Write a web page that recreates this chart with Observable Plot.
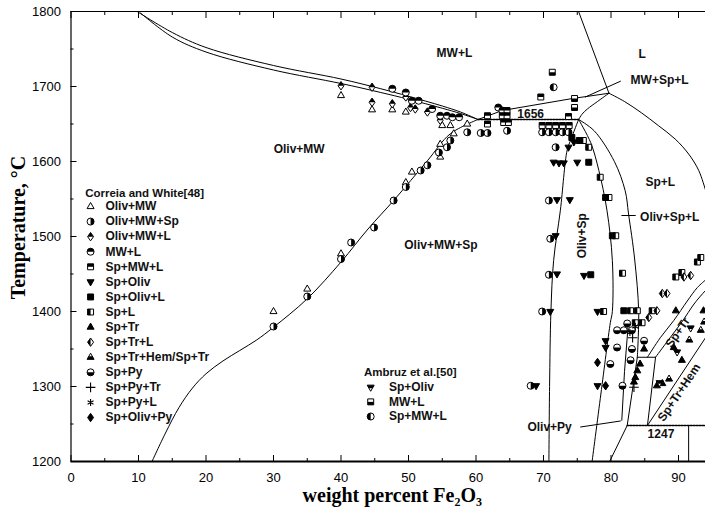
<!DOCTYPE html>
<html><head><meta charset="utf-8">
<script src="https://cdn.jsdelivr.net/npm/d3@7"></script>
<script src="https://cdn.jsdelivr.net/npm/@observablehq/plot@0.6"></script>
<style>body{margin:0;background:#fff}</style>
</head><body><div id="chart"></div>
<script>
// ---------- axis ticks ----------
const xTicks = [0,10,20,30,40,50,60,70,80,90];
const xMinor = [5,15,25,35,45,55,65,75,85];
const yTicks = [1200,1300,1400,1500,1600,1700,1800];
const yMinor = [1250,1350,1450,1550,1650,1750];

// ---------- phase boundaries [wt% Fe2O3, T °C] ----------
const liquidusUpper = [[9.8,1800],[15,1772],[20,1752],[30,1728],[40,1710],[45.9,1697],[50,1687],[55,1674],[57.7,1666],[60.3,1656]];
const liquidusLower = [[10.3,1798],[15,1766],[20,1746],[30,1722],[40,1704],[45.9,1692],[50,1683],[55,1671],[57.7,1664],[60.3,1656]];
const olivMWCurve = [[12,1200],[14,1238],[16,1272],[18,1298],[20,1317],[22.5,1334],[25,1348],[27.5,1362],[30,1379],[35,1417],[40,1466],[44,1510],[47.8,1548],[52.8,1601],[56.2,1637],[60.3,1656]];
const iso1656 = [[60.3,1656],[75.2,1656]];
const mwSpLLine = [[60.3,1656],[63.9,1668],[74.3,1684],[79.7,1691]];
const liquidLine = [[75.2,1800],[79.7,1691]];
const mwSpLLeader = [[76.2,1686],[81.4,1707]];
const spLCurve = [[79.7,1691],[82,1680],[84.5,1665],[87,1648],[89.5,1630],[91.5,1610],[93,1588],[94,1562]];
const cornerCurve = [[79.7,1691],[78,1680],[76.5,1670],[75.7,1663],[75.2,1656]];
const olivSpLeft = [[75.2,1656],[74,1628],[73.5,1615],[72.5,1535],[71.5,1468],[71.1,1400],[70.9,1300],[70.8,1200]];
const olivSpRight = [[75.2,1656],[77,1625],[78.2,1588],[79.4,1535],[80.2,1468],[80.2,1400],[79.9,1385],[78.5,1290],[77.2,1200]];
const olivSpLRight = [[75.2,1656],[77.5,1641],[80.5,1600],[82.1,1561],[82.6,1530],[83.5,1470],[84.1,1400],[83.9,1339]];
const boxTop = [[83.9,1339],[86.6,1339]];
const boxLeft = [[83.9,1339],[82.4,1248]];
const boxRight = [[86.6,1339],[85.4,1248]];
const innerLine = [[82.6,1388],[82.0,1320],[81.6,1255]];
const lowLine = [[82.4,1248],[79.8,1200]];
const iso1247 = [[82.4,1248],[94,1248]];
const vert1247 = [[91.5,1248],[91.5,1200]];
const hemLine = [[85.4,1248],[94,1365]];
const trCurve1 = [[85.4,1339],[87.3,1365],[89.3,1388],[91.3,1414],[92.8,1432],[94,1442]];
const trCurve2 = [[86.6,1339],[88.5,1362],[90.5,1386],[92.3,1410],[93.4,1422],[94,1428]];
const olivPyLeader = [[75.5,1246],[81.4,1254]];
const olivSpLLeader = [[81.6,1528],[83.6,1528]];

// ---------- experimental points: Correia and White [48] ----------
const cwOlivMW = [[30,1400],[35,1430],[40,1477],[40,1688],[44.6,1669],[47.6,1669],[49.6,1666],[50.5,1586],[49.6,1572],[54.7,1606],[54.7,1623],[56.7,1637],[55,1648],[56.2,1648],[58.7,1650]];
const cwOlivMWSp = [[30,1380],[35,1420],[40,1470],[41.5,1492],[44.9,1512],[47.8,1548],[49.6,1566],[51.8,1588],[52.8,1595],[54.5,1612],[55.7,1619],[56.2,1628],[58.7,1639],[60.7,1638],[61.7,1638],[64.6,1641],[69.8,1639],[70.8,1639],[71.8,1639],[72.8,1639],[73.7,1639],[71.8,1619],[70.8,1548],[71.0,1497],[70.8,1449],[69.8,1400],[68.1,1301]];
const cwOlivMWL = [[40,1701],[44.6,1699],[44.6,1679],[47.6,1677],[49.6,1686],[50.3,1672],[51.0,1670],[52.8,1666],[54.7,1655]];
const cwMWL = [[47.6,1697],[49.6,1692],[50.5,1681],[51.5,1681],[53.5,1670],[54.7,1661],[55.7,1661],[56.5,1659],[57.5,1659],[63.3,1672],[63.9,1668]];
const cwSpMWL = [[61.7,1661],[61.7,1650],[64.6,1668],[63.9,1661],[64.6,1661],[64.1,1652],[64.8,1652],[69.6,1686],[73.7,1660],[69.8,1648],[70.8,1648],[71.8,1648],[72.8,1648],[73.8,1648]];
const cwSpOliv = [[73.7,1619],[74.5,1626],[71.5,1599],[72.3,1598],[73.0,1598],[75,1599],[72.0,1549],[73.9,1549],[71.8,1501],[72,1450],[76,1448],[71,1400],[78,1400],[68.9,1301],[78,1301],[79.2,1361],[79.2,1352]];
const cwSpOlivL = [[74.2,1632],[75.3,1628],[76.7,1599],[79.2,1552],[80.2,1501],[77,1449],[81.9,1401]];
const cwSpL = [[75.9,1628],[76.7,1619],[78.4,1579],[79.7,1552],[80.7,1501],[81.7,1451],[78.9,1400],[82.9,1401],[83.9,1401],[86.1,1401],[83.6,1385],[84.6,1385],[89.6,1446],[90.5,1452],[92.8,1466],[93.3,1472]];
const cwSpTr = [[83.4,1306],[83.6,1312],[83.9,1321],[86.8,1301],[87.6,1304],[84.9,1350],[89.6,1401],[93.7,1401],[90.5,1335],[89.3,1352],[84.3,1330]];
const cwSpTrL = [[86.8,1401],[85.6,1392],[87.6,1424],[88.3,1424],[90.8,1446],[91.8,1448]];
const cwSpTrHem = [[88.6,1310],[93.3,1375],[93.8,1386],[91.6,1362]];
const cwSpPy = [[81.7,1301],[80.9,1375],[81.9,1375],[82.4,1384],[83.1,1375],[80.9,1352],[83.1,1350],[82.9,1335],[79.9,1330],[84.9,1361]];
const cwSpPyTr = [[83.4,1299],[83.2,1365]];
const cwSpPyL = [[82.8,1372],[83.6,1380]];
const cwSpOlivPy = [[79.2,1301],[78.0,1332]];

// ---------- experimental points: Ambruz et al. [50] ----------
const ambSpOliv = [[87.2,1305],[89.8,1346],[91.8,1378]];
const ambMWL = [[71.3,1719],[74.6,1684],[74.6,1672]];
const ambSpMWL = [[71.5,1699]];

// ---------- legend entries ----------
const cwLegendTitle = "Correia and White[48]";
const cwLegendNames = ["Oliv+MW","Oliv+MW+Sp","Oliv+MW+L","MW+L","Sp+MW+L","Sp+Oliv","Sp+Oliv+L","Sp+L","Sp+Tr","Sp+Tr+L","Sp+Tr+Hem/Sp+Tr","Sp+Py","Sp+Py+Tr","Sp+Py+L","Sp+Oliv+Py"];
const cwSeries = [cwOlivMW,cwOlivMWSp,cwOlivMWL,cwMWL,cwSpMWL,cwSpOliv,cwSpOlivL,cwSpL,cwSpTr,cwSpTrL,cwSpTrHem,cwSpPy,cwSpPyTr,cwSpPyL,cwSpOlivPy];
const ambLegendTitle = "Ambruz et al.[50]";
const ambLegendNames = ["Sp+Oliv","MW+L","Sp+MW+L"];
const ambSeries = [ambSpOliv,ambMWL,ambSpMWL];

// ---------- region labels ----------
const regionText = ["MW+L","L","MW+Sp+L","1656","Oliv+MW","Sp+L","Oliv+Sp+L","Oliv+Sp","Oliv+MW+Sp","Sp+Tr","Sp+Tr+Hem","Oliv+Py","1247"];
const regionX = [56.8,84.6,87.2,68.1,33.8,87.3,88.7,75.7,54.8,89.9,90.1,70.9,87.4];
const regionT = [1744,1743,1709,1663,1617,1572,1526,1501,1488,1372,1292,1246,1237];
const regionRot = [0,0,0,0,0,0,0,-90,0,-56,-56,0,0];

// ---------- symbol shapes ----------
function poly(pts){return {draw(ctx,size){const s=Math.sqrt(size/Math.PI);pts.forEach(([a,b],i)=>i?ctx.lineTo(a*s,b*s):ctx.moveTo(a*s,b*s));ctx.closePath();}};}
function arcSym(a0,a1,full){return {draw(ctx,size){const s=Math.sqrt(size/Math.PI);if(full){ctx.moveTo(s,0);ctx.arc(0,0,s,0,2*Math.PI);}else{ctx.moveTo(0,0);ctx.arc(0,0,s,a0,a1);ctx.closePath();}}};}
const P=Math.PI;
const SH = {
  circle: arcSym(0,2*P,true),
  square: poly([[-.85,-.85],[.85,-.85],[.85,.85],[-.85,.85]]),
  tri: poly([[0,-1.15],[1,.6],[-1,.6]]),
  tridown: poly([[0,1.15],[1,-.6],[-1,-.6]]),
  diamond: poly([[0,-1.2],[.85,0],[0,1.2],[-.85,0]])
};
const HALF = {
  circle: {left: arcSym(P/2,3*P/2), right: arcSym(-P/2,P/2), top: arcSym(P,2*P), bottom: arcSym(0,P)},
  square: {left: poly([[-.85,-.85],[0,-.85],[0,.85],[-.85,.85]]), top: poly([[-.85,-.85],[.85,-.85],[.85,0],[-.85,0]]), bottom: poly([[-.85,0],[.85,0],[.85,.85],[-.85,.85]])},
  tri: {bottom: poly([[-.5,-.275],[.5,-.275],[1,.6],[-1,.6]])},
  tridown: {top: poly([[-1,-.6],[1,-.6],[.5,.275],[-.5,.275]])},
  diamond: {left: poly([[0,-1.2],[0,1.2],[-.85,0]]), top: poly([[-.85,0],[0,-1.2],[.85,0]])}
};
const cwStyle = [
  {shape:"tri",fill:"white"},
  {shape:"circle",fill:"white",half:"right"},
  {shape:"diamond",fill:"white",half:"top"},
  {shape:"circle",fill:"white",half:"top"},
  {shape:"square",fill:"white",half:"top"},
  {shape:"tridown",fill:"black"},
  {shape:"square",fill:"black"},
  {shape:"square",fill:"white",half:"left"},
  {shape:"tri",fill:"black"},
  {shape:"diamond",fill:"white",half:"left"},
  {shape:"tri",fill:"white",half:"bottom"},
  {shape:"circle",fill:"white",half:"bottom"},
  {symbol:"plus"},
  {symbol:"asterisk"},
  {shape:"diamond",fill:"black"}
];
const ambStyle = [
  {shape:"tridown",fill:"white",half:"top"},
  {shape:"square",fill:"white",half:"bottom"},
  {shape:"circle",fill:"white",half:"left"}
];
const R = 3.5;
function dotMarks(data, st, xf, yf){
  if (st.symbol) return [Plot.dot(data,{x:xf,y:yf,symbol:st.symbol,r:3.2,stroke:"black",strokeWidth:1.1})];
  const m = [Plot.dot(data,{x:xf,y:yf,symbol:SH[st.shape],r:R,fill:st.fill,stroke:"black",strokeWidth:1})];
  if (st.half) m.push(Plot.dot(data,{x:xf,y:yf,symbol:HALF[st.shape][st.half],r:R,fill:"black"}));
  return m;
}
const px = d=>d[0], py = d=>d[1];

// ---------- legend layout (data units) ----------
const cwL = {titleX:2.1,titleT:1558,symX:2.9,textX:5.1,row0:1540,step:20.1};
const amL = {titleX:43.4,titleT:1319,symX:44.4,textX:47.1,row0:1299,step:19.5};
function legendMarks(L, title, names, styles){
  const rows = names.map((n,i)=>({n, i, t: L.row0 - i*L.step}));
  const m = [Plot.text([title],{x:L.titleX,y:L.titleT,text:d=>d,textAnchor:"start",fontSize:11.5,fontWeight:"bold",fill:"#111"})];
  rows.forEach(r=>m.push(...dotMarks([r],styles[r.i],()=>L.symX,d=>d.t)));
  m.push(Plot.text(rows,{x:()=>L.textX,y:d=>d.t,text:d=>d.n,textAnchor:"start",fontSize:12,fontWeight:"bold",fill:"#111"}));
  return m;
}

const lo = {x:px,y:py,stroke:"black",strokeWidth:1,clip:true};
const sm = {...lo,curve:"catmull-rom"};
const labels = regionText.map((t,i)=>({t,x:regionX[i],y:regionT[i],r:regionRot[i]}));
const noTxt = ()=>"";

const chart = Plot.plot({
  width:705, height:512,
  marginLeft:70.5, marginRight:0, marginTop:11, marginBottom:51,
  style:{fontFamily:"Liberation Sans, Arial, sans-serif",fontSize:"13px",background:"white",color:"black"},
  x:{domain:[0,94]},
  y:{domain:[1200,1800]},
  marks:[
    // frame
    Plot.ruleY([1800],{stroke:"black",strokeWidth:1}),
    Plot.ruleY([1200],{stroke:"black",strokeWidth:1.8}),
    Plot.ruleX([0],{stroke:"black",strokeWidth:1.2}),
    // ticks (inward)
    Plot.axisX(xTicks,{anchor:"bottom",tickSize:-6,tickFormat:noTxt,label:null}),
    Plot.axisX(xMinor,{anchor:"bottom",tickSize:-3,tickFormat:noTxt,label:null}),
    Plot.axisX(xTicks,{anchor:"top",tickSize:-6,tickFormat:noTxt,label:null}),
    Plot.axisX(xMinor,{anchor:"top",tickSize:-3,tickFormat:noTxt,label:null}),
    Plot.axisY(yTicks,{anchor:"left",tickSize:-6,tickFormat:noTxt,label:null}),
    Plot.axisY(yMinor,{anchor:"left",tickSize:-3,tickFormat:noTxt,label:null}),
    Plot.axisX(xTicks,{anchor:"bottom",tickSize:0,tickPadding:11,label:null,fontSize:13,tickFormat:d=>String(d)}),
    Plot.axisY(yTicks,{anchor:"left",tickSize:0,tickPadding:10,label:null,fontSize:13,tickFormat:d=>String(d)}),
    // axis titles
    Plot.text(["weight percent Fe\u2082O\u2083"],{frameAnchor:"bottom",dy:34,dx:4,textAnchor:"middle",lineAnchor:"middle",text:d=>d,fontFamily:"Liberation Serif, DejaVu Serif, serif",fontWeight:"bold",fontSize:20,fill:"black"}),
    Plot.text(["Temperature, \u00B0C"],{frameAnchor:"left",dx:-52,dy:-9,rotate:-90,textAnchor:"middle",lineAnchor:"middle",text:d=>d,fontFamily:"Liberation Serif, DejaVu Serif, serif",fontWeight:"bold",fontSize:20,fill:"black"}),
    // boundaries
    Plot.line(liquidusUpper,sm), Plot.line(liquidusLower,sm), Plot.line(olivMWCurve,sm),
    Plot.line(iso1656,{...lo,strokeDasharray:"2,1",strokeWidth:1.3}),
    Plot.line(mwSpLLine,lo), Plot.line(liquidLine,lo), Plot.line(mwSpLLeader,lo),
    Plot.line(spLCurve,sm), Plot.line(cornerCurve,sm),
    Plot.line(olivSpLeft,sm), Plot.line(olivSpRight,sm), Plot.line(olivSpLRight,sm),
    Plot.line(boxTop,lo), Plot.line(boxLeft,lo), Plot.line(boxRight,lo),
    Plot.line(innerLine,lo), Plot.line(lowLine,lo),
    Plot.line(iso1247,{...lo,strokeDasharray:"2,1",strokeWidth:1.3}), Plot.line(vert1247,lo),
    Plot.line(hemLine,lo), Plot.line(trCurve1,sm), Plot.line(trCurve2,sm),
    Plot.line(olivPyLeader,lo), Plot.line(olivSpLLeader,lo),
    // points
    ...cwSeries.flatMap((s,i)=>dotMarks(s,cwStyle[i],px,py)),
    ...ambSeries.flatMap((s,i)=>dotMarks(s,ambStyle[i],px,py)),
    // region labels
    Plot.text(labels,{x:"x",y:"y",text:"t",rotate:"r",fontSize:12,fontWeight:"bold",fill:"#111"}),
    // legends
    ...legendMarks(cwL,cwLegendTitle,cwLegendNames,cwStyle),
    ...legendMarks(amL,ambLegendTitle,ambLegendNames,ambStyle)
  ]
});
document.getElementById("chart").appendChild(chart);
</script>
</body></html>
